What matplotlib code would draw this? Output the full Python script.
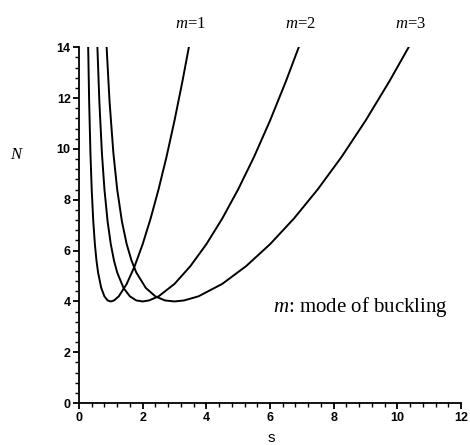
import matplotlib.pyplot as plt
from matplotlib.ticker import MultipleLocator

plt.rcParams['mathtext.fontset'] = 'custom'
plt.rcParams['mathtext.it'] = 'Liberation Serif:italic'
plt.rcParams['mathtext.rm'] = 'Liberation Serif'

# buckling load N against aspect ratio s, one curve per mode m
n_vals = [13.97, 11.87, 9.85, 8.41, 7.14, 6.25, 5.61, 5.14, 4.53, 4.20, 4.04, 4.00,
          4.04, 4.20, 4.69, 5.39, 6.25, 7.26, 8.41, 9.69, 11.11, 12.66, 13.99]
s_m1 = [0.29, 0.32, 0.36, 0.40, 0.45, 0.50, 0.55, 0.60, 0.70, 0.80, 0.90, 1.00,
        1.10, 1.25, 1.50, 1.75, 2.00, 2.25, 2.50, 2.75, 3.00, 3.25, 3.45]
s_m2 = [0.58, 0.64, 0.72, 0.80, 0.90, 1.00, 1.10, 1.20, 1.40, 1.60, 1.80, 2.00,
        2.20, 2.50, 3.00, 3.50, 4.00, 4.50, 5.00, 5.50, 6.00, 6.50, 6.90]
s_m3 = [0.87, 0.96, 1.08, 1.20, 1.35, 1.50, 1.65, 1.80, 2.10, 2.40, 2.70, 3.00,
        3.30, 3.75, 4.50, 5.25, 6.00, 6.75, 7.50, 8.25, 9.00, 9.75, 10.35]
mode_labels = ['1', '2', '3']

fig = plt.figure(figsize=(4.70, 4.45), dpi=100)
ax = fig.add_axes([0.168, 0.094, 0.813, 0.80])

for s in [s_m1, s_m2, s_m3]:
    ax.plot(s, n_vals, color='black', lw=1.4)

ax.set_xlim(0, 12)
ax.set_ylim(0, 14)
ax.xaxis.set_major_locator(MultipleLocator(2))
ax.yaxis.set_major_locator(MultipleLocator(2))
ax.xaxis.set_minor_locator(MultipleLocator(0.4))
ax.yaxis.set_minor_locator(MultipleLocator(0.4))
ax.spines['top'].set_visible(False)
ax.spines['right'].set_visible(False)
ax.spines['left'].set_linewidth(1.3)
ax.spines['bottom'].set_linewidth(1.3)
ax.tick_params(which='major', length=4, width=1.3, direction='out', pad=2)
ax.tick_params(which='minor', length=3, width=1.0, direction='out')
for lab in ax.get_xticklabels() + ax.get_yticklabels():
    lab.set_fontfamily('Liberation Sans')
    lab.set_fontweight('bold')
    lab.set_fontsize(9)

# mode labels above the curve ends
for s, m in zip([s_m1, s_m2, s_m3], mode_labels):
    ax.text(s[-1] + 0.05, 14.75, r'$\mathit{m}$=' + m, ha='center', va='baseline',
            fontsize=12, family='Liberation Serif')

ax.text(6.1, 3.8, r'$\mathit{m}$: mode of buckling', ha='left', va='center',
        fontsize=15, family='Liberation Serif')

fig.text(0.034, 0.652, 'N', fontsize=12, style='italic', family='Liberation Serif',
         ha='center', va='center')
fig.text(0.577, 0.016, 's', fontsize=11, family='Liberation Sans', ha='center', va='center')

fig.savefig('out.png', dpi=100)
